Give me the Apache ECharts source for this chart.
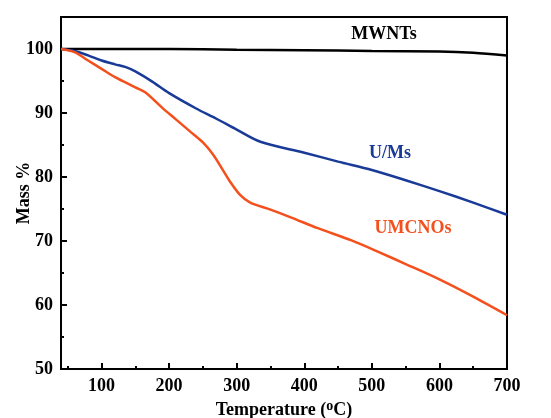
<!DOCTYPE html>
<html><head><meta charset="utf-8">
<script src="https://cdn.jsdelivr.net/npm/echarts@6/dist/echarts.min.js"></script>
<style>html,body{margin:0;padding:0;background:#fff}#c{width:551px;height:418px}</style>
</head><body><div id="c"></div>
<script>
const mwntsT = [40, 100, 200, 300, 400, 500, 600, 650, 700];
const mwntsM = [100, 100, 100, 99.9, 99.8, 99.7, 99.6, 99.4, 99.0];
const umsT = [40, 60, 80, 100, 120, 135, 150, 175, 200, 240, 270, 300, 335, 400, 450, 500, 550, 600, 650, 700];
const umsM = [100, 99.7, 99.0, 98.2, 97.6, 97.2, 96.5, 94.9, 93.1, 90.7, 89.1, 87.4, 85.5, 83.8, 82.4, 81.1, 79.5, 77.8, 76.0, 74.1];
const umcT = [40, 60, 80, 100, 120, 150, 165, 190, 210, 230, 250, 265, 280, 290, 305, 320, 350, 380, 420, 470, 512, 550, 600, 650, 700];
const umcM = [100, 99.5, 98.2, 96.9, 95.6, 94.0, 93.2, 90.8, 89.0, 87.2, 85.4, 83.5, 81.0, 79.3, 77.2, 76.0, 74.9, 73.7, 72.0, 70.1, 68.2, 66.4, 64.0, 61.3, 58.4];
const xTicks = [100, 200, 300, 400, 500, 600, 700];
const xMinor = [50, 150, 250, 350, 450, 550, 650];
const yTicks = [50, 60, 70, 80, 90, 100];
const yMinor = [55, 65, 75, 85, 95];
const seriesNames = ['MWNTs', 'U/Ms', 'UMCNOs'];
const labelPos = [[518, 102.3], [527, 83.7], [561, 72.0]];

const FONT = 'Liberation Serif';
const colors = ['#000000', '#1a3a98', '#f4501e'];
const zip = (a, b) => a.map((v, i) => [v, b[i]]);

const axisBase = {
  type: 'value', min: 40, max: 700
};
const chart = echarts.init(document.getElementById('c'));
function mk(idx, t, m) {
  return {
    type: 'line', name: seriesNames[idx], data: zip(t, m), smooth: 0.3,
    showSymbol: false, symbol: 'none',
    lineStyle: { color: colors[idx], width: 2.5 },
    xAxisIndex: 0, yAxisIndex: 0, z: 3,
    markPoint: {
      symbol: 'circle', symbolSize: 0,
      data: [{ coord: labelPos[idx] }],
      label: { show: true, position: 'inside', formatter: seriesNames[idx],
        color: colors[idx], fontFamily: FONT, fontWeight: 'bold', fontSize: 18 }
    }
  };
}
chart.setOption({
  animation: false,
  grid: { left: 61, right: 44, top: 17, bottom: 49, show: true, borderColor: '#000', borderWidth: 2,
    containLabel: false, outerBoundsMode: 'none' },
  xAxis: [{
    ...axisBase,
    name: 'Temperature ({sup|o}C)', nameLocation: 'middle', nameGap: 30, nameMoveOverlap: false,
    nameTextStyle: { fontFamily: FONT, fontWeight: 'bold', fontSize: 18, color: '#000',
      rich: { sup: { fontFamily: FONT, fontWeight: 'bold', fontSize: 14, verticalAlign: 'bottom', padding: [0, 0, 9, 0] } } },
    axisLine: { lineStyle: { color: '#000', width: 2 } },
    axisTick: { inside: true, length: 6, lineStyle: { width: 2, color: '#000' }, customValues: xTicks },
    axisLabel: { customValues: xTicks, fontFamily: FONT, fontWeight: 'bold', fontSize: 18, color: '#000', margin: 8 },
    splitLine: { show: false }
  }, {
    ...axisBase, position: 'bottom',
    axisLine: { show: false },
    axisTick: { inside: true, length: 3, lineStyle: { width: 2, color: '#000' }, customValues: xMinor },
    axisLabel: { show: false }, splitLine: { show: false }
  }],
  yAxis: [{
    type: 'value', min: 50, max: 105,
    name: 'Mass %', nameLocation: 'middle', nameGap: 28, nameMoveOverlap: false,
    nameTextStyle: { fontFamily: FONT, fontWeight: 'bold', fontSize: 18, color: '#000' },
    axisLine: { lineStyle: { color: '#000', width: 2 } },
    axisTick: { inside: true, length: 6, lineStyle: { width: 2, color: '#000' }, customValues: yTicks },
    axisLabel: { customValues: yTicks, fontFamily: FONT, fontWeight: 'bold', fontSize: 18, color: '#000', margin: 8 },
    splitLine: { show: false }
  }, {
    type: 'value', min: 50, max: 105, position: 'left',
    axisLine: { show: false },
    axisTick: { inside: true, length: 3, lineStyle: { width: 2, color: '#000' }, customValues: yMinor },
    axisLabel: { show: false }, splitLine: { show: false }
  }],
  series: [mk(0, mwntsT, mwntsM), mk(1, umsT, umsM), mk(2, umcT, umcM)]
});
</script></body></html>
